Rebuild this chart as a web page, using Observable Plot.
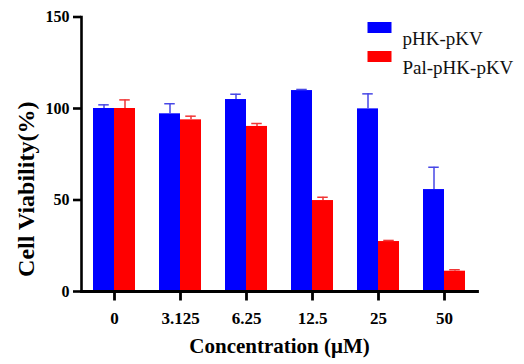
<!DOCTYPE html>
<html>
<head>
<meta charset="utf-8">
<script src="https://cdn.jsdelivr.net/npm/d3@7"></script>
<script src="https://cdn.jsdelivr.net/npm/@observablehq/plot@0.6"></script>
<style>
  html, body { margin: 0; padding: 0; background: #fff; }
  svg text { font-family: "Liberation Serif", "Times New Roman", serif; }
</style>
</head>
<body>
<div id="chart"></div>
<script>
const concentrations = ["0", "3.125", "6.25", "12.5", "25", "50"];
const seriesNames = ["pHK-pKV", "Pal-pHK-pKV"];
const pHKValues = [100, 97.1, 104.9, 109.8, 99.8, 55.7];
const pHKErrors = [2.0, 5.5, 2.9, 0.6, 8.2, 12.2];
const palValues = [100, 93.8, 90.2, 49.7, 27.3, 11.1];
const palErrors = [4.7, 2.0, 1.6, 1.8, 0.6, 0.8];
const yTicks = [0, 50, 100, 150];
const barColors = ["#0000ff", "#ff0000"];
const errColors = ["#4747e6", "#f03535"];
const serif = "Liberation Serif";

const rows = [];
concentrations.forEach((c, i) => {
  rows.push({conc: c, series: seriesNames[0], value: pHKValues[i], upper: pHKValues[i] + pHKErrors[i]});
  rows.push({conc: c, series: seriesNames[1], value: palValues[i], upper: palValues[i] + palErrors[i]});
});

const errMarks = seriesNames.flatMap((s, k) => {
  const d = rows.filter(r => r.series === s);
  return [
    Plot.ruleX(d, {fx: "conc", x: "series", y1: "value", y2: "upper", stroke: errColors[k], strokeWidth: 1.5}),
    Plot.tickY(d, {fx: "conc", x: "series", y: "upper", stroke: errColors[k], strokeWidth: 1.5, inset: 5.25})
  ];
});

const legendSymbol = {draw(ctx) { ctx.rect(-12, -5.5, 24, 11); }};
const tickSymbol = {draw(ctx) { ctx.moveTo(0, 0); ctx.lineTo(0, 9); }};
const legendMarks = seriesNames.flatMap((s, k) => [
  Plot.dot([s], {frameAnchor: "top-right", facet: "super", symbol: legendSymbol, fill: barColors[k], stroke: "none", dx: -98, dy: 10.5 + k * 29}),
  Plot.text([s], {frameAnchor: "top-right", facet: "super", text: d => d, textAnchor: "start", fontFamily: serif, fontSize: 19, fill: "#111", dx: -75, dy: 14 + k * 29})
]);

const chart = Plot.plot({
  width: 524,
  height: 364,
  marginLeft: 79,
  marginRight: 46,
  marginTop: 16.5,
  marginBottom: 73,
  style: {fontFamily: serif, color: "#000", background: "#fff"},
  fx: {domain: concentrations, padding: 0},
  x: {domain: seriesNames, paddingInner: 0, paddingOuter: 0.547, axis: null},
  y: {domain: [0, 150]},
  color: {domain: seriesNames, range: barColors},
  marks: [
    Plot.barY(rows, {fx: "conc", x: "series", y: "value", fill: "series"}),
    ...errMarks,
    Plot.frame({anchor: "left", facet: "super", stroke: "#000", strokeWidth: 2.6}),
    Plot.frame({anchor: "bottom", facet: "super", stroke: "#000", strokeWidth: 2.8}),
    Plot.axisY({ticks: yTicks, tickSize: 8, tickPadding: 4, strokeWidth: 2.6, fontFamily: serif, fontSize: 16, fontWeight: "bold", label: null}),
    Plot.dot(concentrations, {fx: d => d, frameAnchor: "bottom", symbol: tickSymbol, stroke: "#000", strokeWidth: 2.8, fill: "none"}),
    Plot.axisFx({anchor: "bottom", tickSize: 0, tickPadding: 20, fontFamily: serif, fontSize: 17, fontWeight: "bold", label: null}),
    Plot.text(["Cell Viability(%)"], {frameAnchor: "left", facet: "super", text: d => d, textAnchor: "middle", rotate: -90, fontFamily: serif, fontSize: 24, fontWeight: "bold", dx: -55, dy: 35}),
    Plot.text(["Concentration (\u03bcM)"], {frameAnchor: "bottom", facet: "super", text: d => d, fontFamily: serif, fontSize: 21, fontWeight: "bold", dy: 61}),
    ...legendMarks
  ]
});
document.getElementById("chart").appendChild(chart);
</script>
</body>
</html>
